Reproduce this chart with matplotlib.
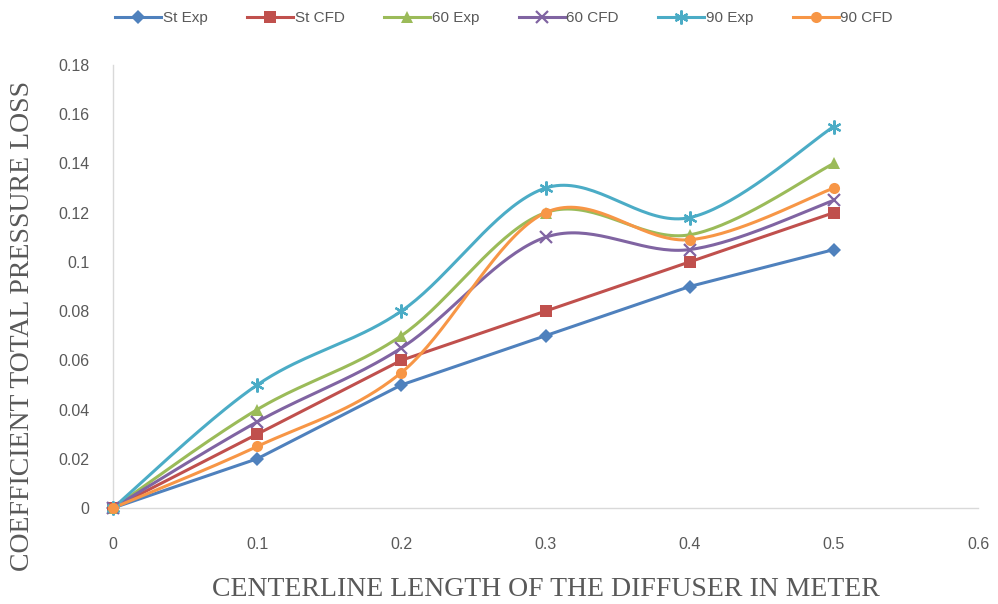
import numpy as np
import matplotlib.pyplot as plt
from matplotlib.lines import Line2D

x = [0, 0.1, 0.2, 0.3, 0.4, 0.5]
st_exp = [0, 0.02, 0.05, 0.07, 0.09, 0.105]
st_cfd = [0, 0.03, 0.06, 0.08, 0.10, 0.12]
exp_60 = [0, 0.04, 0.07, 0.12, 0.111, 0.14]
cfd_60 = [0, 0.035, 0.065, 0.11, 0.105, 0.125]
exp_90 = [0, 0.05, 0.08, 0.13, 0.118, 0.155]
cfd_90 = [0, 0.025, 0.055, 0.12, 0.109, 0.13]

names = ["St Exp", "St CFD", "60 Exp", "60 CFD", "90 Exp", "90 CFD"]
series = [st_exp, st_cfd, exp_60, cfd_60, exp_90, cfd_90]
colors = ["#4F81BD", "#C0504D", "#9BBB59", "#8064A2", "#4BACC6", "#F79646"]
markers = ["D", "s", "^", "x", (6, 2, 0), "o"]
msizes = [7, 8, 8, 8, 10, 8]
smoothed = [False, False, True, True, True, True]


def smooth(xs, ys, n=40):
    # excel-style bezier smoothing (catmull-rom control points)
    p = np.column_stack([xs, ys]).astype(float)
    p = np.vstack([p[0], p, p[-1]])
    out = []
    for i in range(1, len(p) - 2):
        p0, p1, p2, p3 = p[i - 1], p[i], p[i + 1], p[i + 2]
        c1 = p1 + (p2 - p0) / 6
        c2 = p2 - (p3 - p1) / 6
        t = np.linspace(0, 1, n)[:, None]
        seg = ((1 - t) ** 3 * p1 + 3 * (1 - t) ** 2 * t * c1
               + 3 * (1 - t) * t ** 2 * c2 + t ** 3 * p2)
        out.append(seg if i == 1 else seg[1:])
    out = np.vstack(out)
    return out[:, 0], out[:, 1]


fig = plt.figure(figsize=(9.98, 6.04), dpi=100)
ax = fig.add_axes([113 / 998, 1 - 508 / 604, 865 / 998, 443 / 604])

handles = []
for ys, name, c, m, ms, sm in zip(series, names, colors, markers, msizes, smoothed):
    if sm:
        sx, sy = smooth(x, ys)
    else:
        sx, sy = x, ys
    ax.plot(sx, sy, color=c, lw=2.2, solid_capstyle="round", zorder=2)
    mew = 1.6 if m in ("x", (6, 2, 0)) else 0
    ax.plot(x, ys, ls="none", marker=m, ms=ms, color=c, mec=c, mew=mew, zorder=3)
    handles.append(Line2D([], [], color=c, lw=2.2, marker=m, ms=ms, mec=c, mew=mew))

ax.set_xlim(0, 0.6)
ax.set_ylim(0, 0.18)
ax.set_xticks(np.arange(0, 0.61, 0.1))
ax.set_xticklabels(["0", "0.1", "0.2", "0.3", "0.4", "0.5", "0.6"])
ax.set_yticks(np.arange(0, 0.181, 0.02))
ax.set_yticklabels(["0", "0.02", "0.04", "0.06", "0.08", "0.1", "0.12",
                    "0.14", "0.16", "0.18"])
ax.tick_params(length=0, labelsize=11.5, labelcolor="#595959")
ax.tick_params(axis="x", pad=21)
ax.tick_params(axis="y", pad=17)
for lab in ax.get_xticklabels() + ax.get_yticklabels():
    lab.set_family("Liberation Sans")
for s in ["top", "right"]:
    ax.spines[s].set_visible(False)
for s in ["left", "bottom"]:
    ax.spines[s].set_color("#D9D9D9")
    ax.spines[s].set_linewidth(1)
ax.margins(0)
for ln in ax.lines:
    ln.set_clip_on(False)

fig.text(546 / 998, 1 - 590 / 604, "CENTERLINE LENGTH OF THE DIFFUSER IN METER",
         family="Liberation Serif", fontsize=20, color="#595959",
         ha="center", va="center")
fig.text(23 / 998, 1 - 326 / 604, "COEFFICIENT TOTAL PRESSURE LOSS",
         family="Liberation Serif", fontsize=20, color="#595959",
         ha="center", va="center", rotation=90)

fig.legend(handles=handles, labels=names, loc="center", bbox_to_anchor=(504 / 998, 1 - 18 / 604),
           ncol=6, frameon=False, handlelength=3, columnspacing=2.6,
           handletextpad=0.1, prop={"family": "Liberation Sans", "size": 11})
for t in fig.legends[0].get_texts():
    t.set_color("#595959")

fig.savefig("out.png", dpi=100)
